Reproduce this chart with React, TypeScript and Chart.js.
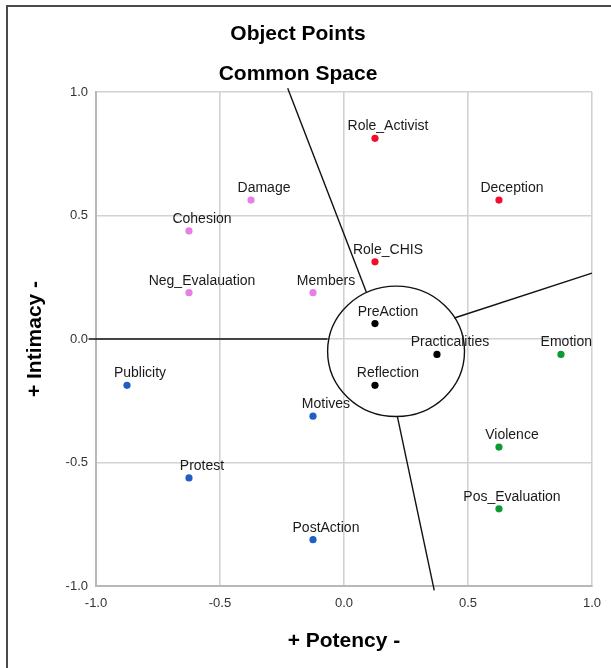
import React, { useEffect, useRef } from "react";
import { Chart, registerables } from "chart.js";

Chart.register(...registerables);

// ---- Data ----
const redLabels = ["Role_Activist", "Deception", "Role_CHIS"];
const redX = [0.125, 0.625, 0.125];
const redY = [0.8125, 0.5625, 0.3125];

const violetLabels = ["Damage", "Cohesion", "Neg_Evalauation", "Members"];
const violetX = [-0.375, -0.625, -0.625, -0.125];
const violetY = [0.5625, 0.4375, 0.1875, 0.1875];

const blackLabels = ["PreAction", "Practicalities", "Reflection"];
const blackX = [0.125, 0.375, 0.125];
const blackY = [0.0625, -0.0625, -0.1875];

const greenLabels = ["Emotion", "Violence", "Pos_Evaluation"];
const greenX = [0.875, 0.625, 0.625];
const greenY = [-0.0625, -0.4375, -0.6875];

const blueLabels = ["Publicity", "Motives", "Protest", "PostAction"];
const blueX = [-0.875, -0.125, -0.625, -0.125];
const blueY = [-0.1875, -0.3125, -0.5625, -0.8125];

// partition lines (start and end points, in data units)
const lineTopX = [-0.227, 0.09];
const lineTopY = [1.015, 0.19];
const lineRightX = [0.445, 1.0];
const lineRightY = [0.085, 0.267];
const lineBottomX = [0.215, 0.364];
const lineBottomY = [-0.312, -1.018];
const lineLeftX = [-1.03, -0.066];
const lineLeftY = [0.0, 0.0];

// central circle (data units)
const circleCenter = [0.21, -0.05];
const circleRadius = [0.276, 0.264];

const axisTicks = [-1.0, -0.5, 0.0, 0.5, 1.0];

const FONT = '"Liberation Sans", Arial, sans-serif';

const zip = (xs: number[], ys: number[]) => xs.map((x, i) => ({ x, y: ys[i] }));

export default function App() {
  const ref = useRef<HTMLCanvasElement | null>(null);

  useEffect(() => {
    if (!ref.current) return;

    const groups = [
      { labels: redLabels, x: redX, y: redY, color: "#f20d2e" },
      { labels: violetLabels, x: violetX, y: violetY, color: "#e57fe6" },
      { labels: blackLabels, x: blackX, y: blackY, color: "#000000" },
      { labels: greenLabels, x: greenX, y: greenY, color: "#0d9a33" },
      { labels: blueLabels, x: blueX, y: blueY, color: "#1f5ec4" },
    ];

    const lines = [
      zip(lineTopX, lineTopY),
      zip(lineRightX, lineRightY),
      zip(lineBottomX, lineBottomY),
      zip(lineLeftX, lineLeftY),
    ];

    const datasets: any[] = [
      ...lines.map((d) => ({
        type: "line",
        data: d,
        borderColor: "#111",
        borderWidth: 1.4,
        pointRadius: 0,
        clip: false,
        order: 2,
      })),
      ...groups.map((g) => ({
        type: "scatter",
        data: zip(g.x, g.y),
        pointLabels: g.labels,
        backgroundColor: g.color,
        borderColor: g.color,
        pointRadius: 3.6,
        borderWidth: 0,
        order: 1,
      })),
    ];

    const decor = {
      id: "decor",
      beforeDraw(chart: any) {
        const ctx = chart.ctx;
        ctx.save();
        ctx.fillStyle = "#ffffff";
        ctx.fillRect(0, 0, chart.width, chart.height);
        ctx.fillStyle = "#4a4a4a";
        ctx.fillRect(6, 5, 2, chart.height);
        ctx.fillRect(6, 5, chart.width, 2);
        ctx.restore();
      },
      afterDatasetsDraw(chart: any) {
        const ctx = chart.ctx;
        const xs = chart.scales.x;
        const ys = chart.scales.y;
        // circle
        const cx = xs.getPixelForValue(circleCenter[0]);
        const cy = ys.getPixelForValue(circleCenter[1]);
        const rx = Math.abs(xs.getPixelForValue(circleCenter[0] + circleRadius[0]) - cx);
        const ry = Math.abs(ys.getPixelForValue(circleCenter[1] + circleRadius[1]) - cy);
        ctx.save();
        ctx.beginPath();
        ctx.ellipse(cx, cy, rx, ry, 0, 0, Math.PI * 2);
        ctx.strokeStyle = "#111";
        ctx.lineWidth = 1.4;
        ctx.stroke();
        ctx.restore();

        // point labels
        ctx.save();
        ctx.font = `14px ${FONT}`;
        ctx.fillStyle = "#1a1a1a";
        ctx.textAlign = "center";
        ctx.textBaseline = "alphabetic";
        const area = chart.chartArea;
        chart.data.datasets.forEach((ds: any, di: number) => {
          if (!ds.pointLabels) return;
          const meta = chart.getDatasetMeta(di);
          meta.data.forEach((el: any, i: number) => {
            const text = ds.pointLabels[i];
            const w = ctx.measureText(text).width;
            let tx = el.x + 13;
            if (tx + w / 2 > area.right) tx = area.right - w / 2;
            ctx.fillText(text, tx, el.y - 8);
          });
        });
        ctx.restore();
      },
      afterDraw(chart: any) {
        const ctx = chart.ctx;
        const area = chart.chartArea;
        ctx.save();
        ctx.fillStyle = "#000";
        ctx.textAlign = "center";
        ctx.textBaseline = "middle";
        ctx.font = `bold 21px ${FONT}`;
        ctx.fillText("Object Points", 298, 34);
        ctx.fillText("Common Space", 298, 74);
        ctx.fillText("+ Potency -", (area.left + area.right) / 2, 641);
        ctx.translate(35, (area.top + area.bottom) / 2);
        ctx.rotate(-Math.PI / 2);
        ctx.fillText("+ Intimacy -", 0, 0);
        ctx.restore();
      },
    };

    const axisCommon = {
      type: "linear",
      min: -1,
      max: 1,
      afterBuildTicks: (s: any) => {
        s.ticks = axisTicks.map((v) => ({ value: v }));
      },
      ticks: {
        callback: (v: any) => Number(v).toFixed(1),
        font: { size: 13, family: FONT },
        color: "#333",
      },
      grid: { color: "#d2d2d2", lineWidth: 1.6, drawTicks: false },
      border: { color: "#b8b8b8", width: 2 },
    };

    const chart = new Chart(ref.current, {
      type: "scatter",
      data: { datasets },
      plugins: [decor],
      options: {
        animation: false,
        responsive: false,
        layout: { padding: { top: 92, right: 18, bottom: 42, left: 56 } },
        plugins: {
          legend: { display: false },
          tooltip: { enabled: false },
          title: { display: false },
        },
        scales: {
          x: {
            ...axisCommon,
            ticks: { ...axisCommon.ticks, padding: 10 },
            afterFit: (s: any) => {
              s.height = 40;
            },
          },
          y: {
            ...axisCommon,
            ticks: { ...axisCommon.ticks, padding: 8 },
            afterFit: (s: any) => {
              s.width = 40;
            },
          },
        },
      } as any,
    });

    return () => chart.destroy();
  }, []);

  return (
    <div style={{ position: "fixed", left: 0, top: 0, width: 611, height: 668, background: "#fff" }}>
      <canvas ref={ref} width={611} height={668} style={{ width: 611, height: 668, display: "block" }} />
    </div>
  );
}
